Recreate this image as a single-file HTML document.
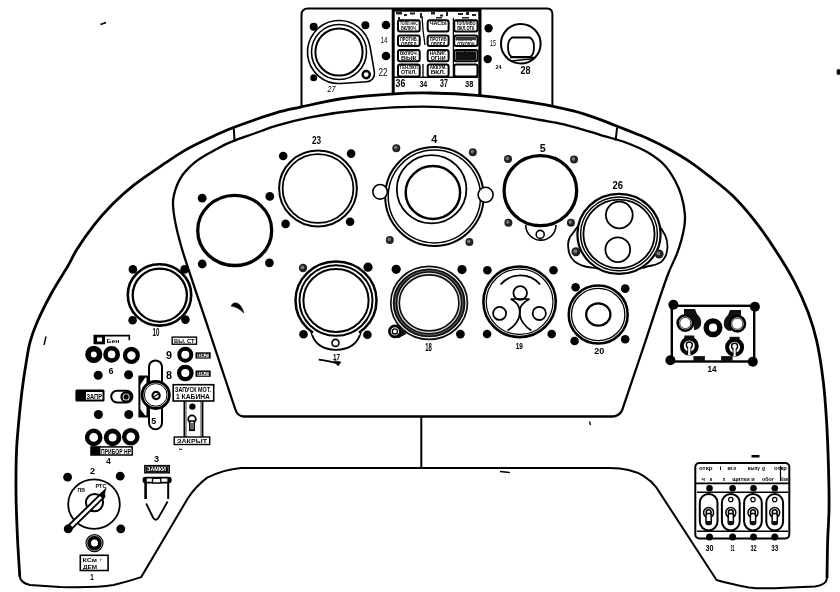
<!DOCTYPE html>
<html><head><meta charset="utf-8"><style>
html,body{margin:0;padding:0;background:#fff;overflow:hidden;}
svg{display:block;will-change:transform;}
text{font-family:"Liberation Sans",sans-serif;fill:#000;-webkit-font-smoothing:antialiased;}
</style></head><body>
<svg width="840" height="592" viewBox="0 0 840 592">
<rect width="840" height="592" fill="#fff"/>
<path d="M301.5,106 L301.5,15 Q301.5,8.5 308,8.5 L547,8.5 Q552.4,8.5 552.4,14 L552.4,105" fill="none" stroke="#000" stroke-width="2" />
<line x1="393.2" y1="8.5" x2="393.2" y2="93.0" stroke="#000" stroke-width="3"/>
<line x1="479.9" y1="8.5" x2="479.9" y2="95.0" stroke="#000" stroke-width="3.2"/>
<line x1="392.0" y1="10.0" x2="481.0" y2="10.0" stroke="#000" stroke-width="3.6"/>
<line x1="394.0" y1="77.3" x2="478.0" y2="77.3" stroke="#000" stroke-width="1.4"/>
<line x1="423.0" y1="64.0" x2="423.0" y2="77.0" stroke="#000" stroke-width="1.3"/>
<line x1="453.4" y1="18.0" x2="453.4" y2="77.0" stroke="#000" stroke-width="1.3"/>
<path d="M422,16 L423,30 L425,45" fill="none" stroke="#000" stroke-width="1.3" />
<path d="M341.02,83.44 L366.73,81.78 A8.30,8.30 0 0 0 374.38,72.11 L370.05,46.71 A31.50,31.50 0 1 0 341.02,83.44 Z" fill="none" stroke="#000" stroke-width="1.6" />
<circle cx="339.0" cy="52.0" r="27.5" fill="none" stroke="#000" stroke-width="1.6"/>
<circle cx="339.0" cy="52.0" r="23.6" fill="none" stroke="#000" stroke-width="2.0"/>
<circle cx="366.2" cy="74.6" r="3.6" fill="none" stroke="#000" stroke-width="2.4"/>
<circle cx="313.7" cy="26.7" r="4.0" fill="#000"/>
<circle cx="365.4" cy="25.2" r="4.0" fill="#000"/>
<circle cx="313.7" cy="77.7" r="3.5" fill="#000"/>
<circle cx="386.0" cy="25.0" r="4.3" fill="#000"/>
<circle cx="386.0" cy="56.0" r="4.3" fill="#000"/>
<text x="380.5" y="43.0" font-size="8.3" font-weight="normal" textLength="7.0" lengthAdjust="spacingAndGlyphs" >14</text>
<text x="378.5" y="76.0" font-size="11.1" font-weight="normal" textLength="9.0" lengthAdjust="spacingAndGlyphs" >22</text>
<text x="327.5" y="92.0" font-size="8.3" font-weight="normal" textLength="8.0" lengthAdjust="spacingAndGlyphs" font-style="italic">27</text>
<rect x="398.0" y="20.2" width="21.7" height="11.3" rx="2" fill="none" stroke="#000" stroke-width="2"/>
<text x="400.0" y="25.2" font-size="5" font-weight="bold" textLength="17.7" lengthAdjust="spacingAndGlyphs">ТОПЛ.НАС</text>
<text x="401.0" y="30.2" font-size="5" font-weight="bold" textLength="15.7" lengthAdjust="spacingAndGlyphs">ВКЛЮЧ.</text>
<rect x="427.7" y="20.2" width="20.9" height="11.3" rx="2" fill="none" stroke="#000" stroke-width="2"/>
<text x="429.7" y="25.2" font-size="5" font-weight="bold" textLength="16.9" lengthAdjust="spacingAndGlyphs">ЧАСЫ</text>
<rect x="454.2" y="20.2" width="23.3" height="11.3" rx="2" fill="none" stroke="#000" stroke-width="2"/>
<text x="456.2" y="25.2" font-size="5" font-weight="bold" textLength="19.3" lengthAdjust="spacingAndGlyphs">ТОПЛИВО</text>
<text x="457.2" y="30.2" font-size="5" font-weight="bold" textLength="17.3" lengthAdjust="spacingAndGlyphs">ВКЛ.ОТК</text>
<rect x="398.0" y="35.5" width="21.7" height="10.5" rx="2" fill="none" stroke="#000" stroke-width="2"/>
<text x="400.0" y="40.5" font-size="5" font-weight="bold" textLength="17.7" lengthAdjust="spacingAndGlyphs">ПРОТИВ.</text>
<text x="401.0" y="45.5" font-size="5" font-weight="bold" textLength="15.7" lengthAdjust="spacingAndGlyphs">ОБЛЕД</text>
<rect x="427.7" y="35.5" width="20.9" height="10.5" rx="2" fill="none" stroke="#000" stroke-width="2"/>
<text x="429.7" y="40.5" font-size="5" font-weight="bold" textLength="16.9" lengthAdjust="spacingAndGlyphs">ПРОТИВ</text>
<text x="430.7" y="45.5" font-size="5" font-weight="bold" textLength="14.9" lengthAdjust="spacingAndGlyphs">ОБЛЕД</text>
<rect x="454.2" y="35.5" width="23.3" height="10.5" rx="2" fill="none" stroke="#000" stroke-width="2"/>
<text x="456.2" y="40.5" font-size="5" font-weight="bold" textLength="19.3" lengthAdjust="spacingAndGlyphs">П.ВКЛЮЧ</text>
<text x="457.2" y="45.5" font-size="5" font-weight="bold" textLength="17.3" lengthAdjust="spacingAndGlyphs">ОТКЛЮЧ</text>
<rect x="398.0" y="50.0" width="21.7" height="11.2" rx="2" fill="none" stroke="#000" stroke-width="2"/>
<text x="400.0" y="55.0" font-size="5" font-weight="bold" textLength="17.7" lengthAdjust="spacingAndGlyphs">ВКЛЮЧ.</text>
<text x="401.0" y="60.0" font-size="5" font-weight="bold" textLength="15.7" lengthAdjust="spacingAndGlyphs">ВЫК</text>
<rect x="427.7" y="50.0" width="20.9" height="11.2" rx="2" fill="none" stroke="#000" stroke-width="2"/>
<text x="429.7" y="55.0" font-size="5" font-weight="bold" textLength="16.9" lengthAdjust="spacingAndGlyphs">НАВИГ.</text>
<text x="430.7" y="60.0" font-size="5" font-weight="bold" textLength="14.9" lengthAdjust="spacingAndGlyphs">ОГНИ</text>
<rect x="454.2" y="50.0" width="23.3" height="11.2" rx="2" fill="none" stroke="#000" stroke-width="2"/>
<text x="456.2" y="55.0" font-size="5" font-weight="bold" textLength="19.3" lengthAdjust="spacingAndGlyphs">ВКЛЮЧ</text>
<text x="457.2" y="60.0" font-size="5" font-weight="bold" textLength="17.3" lengthAdjust="spacingAndGlyphs">ВЫКЛ</text>
<rect x="398.0" y="64.4" width="21.7" height="12.0" rx="2" fill="none" stroke="#000" stroke-width="2"/>
<text x="400.0" y="69.4" font-size="5" font-weight="bold" textLength="17.7" lengthAdjust="spacingAndGlyphs">ГЕН.ВКЛ</text>
<text x="401.0" y="74.4" font-size="5" font-weight="bold" textLength="15.7" lengthAdjust="spacingAndGlyphs">ОТКЛ.</text>
<rect x="427.7" y="64.4" width="20.9" height="12.0" rx="2" fill="none" stroke="#000" stroke-width="2"/>
<text x="429.7" y="69.4" font-size="5" font-weight="bold" textLength="16.9" lengthAdjust="spacingAndGlyphs">АККУМ.</text>
<text x="430.7" y="74.4" font-size="5" font-weight="bold" textLength="14.9" lengthAdjust="spacingAndGlyphs">ВКЛ.</text>
<rect x="454.2" y="64.4" width="23.3" height="12.0" rx="2" fill="none" stroke="#000" stroke-width="2"/>
<rect x="455.5" y="51.5" width="20.5" height="8.5" rx="0" fill="#111" stroke="#000" stroke-width="0"/>
<rect x="455.5" y="37.0" width="20.5" height="3.0" rx="0" fill="#333" stroke="#000" stroke-width="0"/>
<text x="395.6" y="87.4" font-size="11.5" font-weight="bold" textLength="9.8" lengthAdjust="spacingAndGlyphs" >36</text>
<text x="419.4" y="87.4" font-size="9.3" font-weight="bold" textLength="7.8" lengthAdjust="spacingAndGlyphs" >34</text>
<text x="440.1" y="87.4" font-size="10.1" font-weight="bold" textLength="7.8" lengthAdjust="spacingAndGlyphs" >37</text>
<text x="465.1" y="87.4" font-size="9.3" font-weight="bold" textLength="8.3" lengthAdjust="spacingAndGlyphs" >38</text>
<rect x="396.0" y="12.0" width="6.0" height="2.5" rx="0" fill="#222" stroke="#000" stroke-width="0"/>
<rect x="404.0" y="14.0" width="3.0" height="2.0" rx="0" fill="#222" stroke="#000" stroke-width="0"/>
<rect x="410.0" y="12.5" width="5.0" height="2.0" rx="0" fill="#222" stroke="#000" stroke-width="0"/>
<rect x="420.0" y="13.0" width="2.0" height="5.0" rx="0" fill="#222" stroke="#000" stroke-width="0"/>
<rect x="431.0" y="12.0" width="4.0" height="2.5" rx="0" fill="#222" stroke="#000" stroke-width="0"/>
<rect x="440.0" y="14.5" width="3.0" height="2.0" rx="0" fill="#222" stroke="#000" stroke-width="0"/>
<rect x="446.0" y="12.0" width="2.0" height="4.0" rx="0" fill="#222" stroke="#000" stroke-width="0"/>
<rect x="458.0" y="13.0" width="5.0" height="2.0" rx="0" fill="#222" stroke="#000" stroke-width="0"/>
<rect x="466.0" y="12.0" width="3.0" height="3.0" rx="0" fill="#222" stroke="#000" stroke-width="0"/>
<rect x="472.0" y="14.0" width="4.0" height="2.0" rx="0" fill="#222" stroke="#000" stroke-width="0"/>
<rect x="398.0" y="17.0" width="2.0" height="3.0" rx="0" fill="#222" stroke="#000" stroke-width="0"/>
<rect x="436.0" y="17.0" width="6.0" height="1.5" rx="0" fill="#222" stroke="#000" stroke-width="0"/>
<rect x="462.0" y="17.0" width="7.0" height="1.5" rx="0" fill="#222" stroke="#000" stroke-width="0"/>
<circle cx="520.8" cy="43.7" r="19.8" fill="none" stroke="#000" stroke-width="2"/>
<path d="M512,37.5 L530,37.5 Q534,40 534,47 Q534,55 530,57 L512,57 Q508,55 508,47 Q508,40 512,37.5Z" fill="none" stroke="#000" stroke-width="1.8"/>
<line x1="511.5" y1="61.0" x2="534.7" y2="58.5" stroke="#000" stroke-width="1.6"/>
<line x1="510.0" y1="57.5" x2="534.0" y2="57.5" stroke="#000" stroke-width="1.6"/>
<circle cx="488.6" cy="28.3" r="4.2" fill="#000"/>
<circle cx="487.7" cy="59.1" r="4.2" fill="#000"/>
<text x="489.9" y="46.0" font-size="8.3" font-weight="normal" textLength="6.0" lengthAdjust="spacingAndGlyphs" >15</text>
<text x="495.5" y="69.0" font-size="6.2" font-weight="bold" textLength="6.0" lengthAdjust="spacingAndGlyphs" >24</text>
<text x="520.4" y="74.3" font-size="11.1" font-weight="bold" textLength="10.0" lengthAdjust="spacingAndGlyphs" >28</text>
<path d="M19.8,577.0 C19.0,563.3 18.0,549.9 17.4,536.0 C16.8,521.8 16.1,507.2 16.0,492.7 C15.9,478.2 16.0,462.1 16.6,449.0 C17.1,438.3 18.0,429.9 18.9,420.0 C19.9,409.5 21.1,397.6 22.4,387.8 C23.5,379.5 24.5,372.5 25.8,364.9 C27.1,357.2 28.1,349.2 30.1,341.9 C32.0,334.9 34.2,329.0 37.3,321.8 C41.1,313.0 46.4,302.5 51.6,293.0 C56.9,283.3 64.3,272.4 68.8,264.4 C72.0,258.8 73.2,255.3 76.5,250.0 C81.0,242.8 87.7,233.1 93.8,225.4 C99.7,217.9 105.8,211.0 112.4,204.3 C119.1,197.6 125.8,191.6 133.8,185.2 C143.0,177.9 155.7,169.5 165.0,163.2 C172.4,158.2 178.5,154.0 185.3,150.1 C191.9,146.3 198.2,143.3 205.2,140.0 C212.7,136.4 221.0,132.6 229.0,129.3 C236.9,126.1 244.9,123.3 252.9,120.5 C260.8,117.7 268.7,114.8 276.7,112.6 C284.6,110.4 291.6,109.1 300.5,107.1 C312.0,104.6 326.2,101.1 340.0,99.0 C354.9,96.7 371.7,95.3 387.0,94.3 C401.6,93.3 415.1,92.8 430.0,93.0 C446.0,93.2 462.6,94.0 480.0,95.7 C499.1,97.5 525.1,101.4 540.0,103.9 C549.0,105.4 554.3,106.6 561.4,108.2 C568.6,109.8 575.8,111.5 582.9,113.6 C590.1,115.8 597.2,118.4 604.3,121.1 C611.5,123.8 618.6,126.8 625.7,129.6 C632.8,132.5 640.0,135.0 647.1,138.2 C654.3,141.4 661.5,145.0 668.6,148.9 C675.8,152.9 683.0,157.1 690.0,161.8 C697.3,166.7 704.3,172.3 711.4,177.9 C718.7,183.7 726.0,189.2 733.0,196.0 C740.5,203.4 747.8,211.9 754.8,220.8 C762.2,230.2 769.5,240.9 776.1,251.2 C782.6,261.2 788.9,271.3 794.3,281.6 C799.5,291.6 804.2,302.0 808.0,312.0 C811.5,321.4 814.1,329.6 816.5,340.0 C819.4,352.6 821.7,368.4 823.4,382.6 C825.1,396.7 825.9,410.9 826.8,425.1 C827.6,439.3 828.1,453.5 828.5,467.7 C828.9,481.9 829.2,497.4 829.0,510.3 C828.8,521.1 828.0,529.5 827.7,540.0 C827.3,551.9 827.2,565.3 827.0,578.0" fill="none" stroke="#000" stroke-width="2.8" />
<path d="M827,578 Q826.5,585 815,586.5 L785,587.8 Q760,589 748.9,587.4 Q730,584 716.5,580 L656.3,487.4 Q646,474 628.5,470 Q620,468 610,468 L241,468 Q224,469.5 207.2,477.6 Q196,486 188,498 L141.2,577.1 Q128,581.5 113.6,585 Q95,588 60,587 L30,585 Q21,583 19.8,577" fill="none" stroke="#000" stroke-width="2" />
<path d="M235.2,409.0 C226.4,382.5 217.5,356.0 208.7,329.5 C199.9,303.0 187.8,268.3 182.3,250.0 C179.5,240.4 178.0,235.0 176.5,228.0 C175.1,221.7 173.9,215.1 173.4,210.0 C173.0,206.2 172.8,203.3 173.1,200.0 C173.4,196.8 174.2,193.7 175.1,190.7 C175.9,187.9 177.0,185.2 178.2,182.6 C179.4,180.1 180.6,177.8 182.2,175.5 C183.9,173.0 186.1,170.7 188.3,168.4 C190.5,166.1 192.7,163.9 195.4,161.8 C198.4,159.5 202.1,157.2 205.5,155.2 C208.9,153.2 212.4,151.4 215.7,149.6 C218.9,147.9 221.8,146.1 225.0,144.6 C228.2,143.1 231.2,141.9 235.0,140.4 C240.1,138.4 246.5,136.3 252.9,134.0 C260.3,131.4 268.0,128.3 276.7,125.7 C286.8,122.7 297.7,119.8 310.0,117.4 C324.9,114.4 341.7,111.7 360.0,110.0 C382.1,107.9 409.7,106.2 433.6,106.8 C456.3,107.4 480.7,110.4 500.0,113.0 C515.1,115.0 528.7,118.0 540.0,120.0 C548.2,121.5 554.3,122.3 561.4,123.9 C568.6,125.5 575.8,127.6 582.9,129.6 C590.1,131.6 597.2,133.9 604.3,136.1 C611.4,138.2 618.7,139.9 625.7,142.5 C632.9,145.2 640.6,148.2 647.1,152.1 C653.4,155.8 659.6,160.1 664.3,165.0 C668.7,169.6 672.1,175.2 675.0,180.5 C677.7,185.4 679.7,190.1 681.3,195.5 C683.1,201.4 684.5,208.8 684.9,214.4 C685.2,218.8 684.9,222.1 684.4,226.2 C683.8,230.7 682.6,235.7 681.3,240.4 C680.0,245.2 678.5,249.6 676.6,254.6 C674.3,260.5 671.5,265.1 668.3,273.5 C662.2,289.1 652.9,319.2 645.2,342.0 C637.5,364.8 629.7,387.7 622.0,410.5 Q619,416.5 612,416.5 L244,416.5 Q237.5,416.5 235.2,409" fill="none" stroke="#000" stroke-width="2.3" />
<line x1="233.8" y1="128.5" x2="234.6" y2="141.5" stroke="#000" stroke-width="2"/>
<line x1="617.1" y1="127.5" x2="615.6" y2="140.5" stroke="#000" stroke-width="2"/>
<line x1="421.3" y1="416.5" x2="421.3" y2="468.0" stroke="#000" stroke-width="2"/>
<ellipse cx="234.7" cy="230.4" rx="37.0" ry="35.1" fill="none" stroke="#000" stroke-width="3.3"/>
<circle cx="202.2" cy="198.2" r="4.4" fill="#000"/>
<circle cx="269.8" cy="196.4" r="4.4" fill="#000"/>
<circle cx="202.2" cy="264.0" r="4.4" fill="#000"/>
<circle cx="269.4" cy="262.8" r="4.4" fill="#000"/>
<ellipse cx="318.0" cy="188.5" rx="38.9" ry="37.9" fill="none" stroke="#000" stroke-width="2"/>
<ellipse cx="318.0" cy="188.5" rx="35.4" ry="34.4" fill="none" stroke="#000" stroke-width="1.8"/>
<circle cx="283.2" cy="156.0" r="4.3" fill="#000"/>
<circle cx="351.1" cy="153.6" r="4.3" fill="#000"/>
<circle cx="285.6" cy="223.9" r="4.3" fill="#000"/>
<circle cx="350.1" cy="221.8" r="4.3" fill="#000"/>
<text x="311.9" y="144.3" font-size="11.0" font-weight="bold" textLength="9.1" lengthAdjust="spacingAndGlyphs" >23</text>
<ellipse cx="159.5" cy="294.9" rx="31.7" ry="30.7" fill="none" stroke="#000" stroke-width="2.6"/>
<ellipse cx="159.8" cy="295.2" rx="27.1" ry="26.6" fill="none" stroke="#000" stroke-width="2.3"/>
<circle cx="132.9" cy="269.4" r="4.3" fill="#000"/>
<circle cx="184.6" cy="269.4" r="4.3" fill="#000"/>
<circle cx="132.6" cy="320.3" r="4.3" fill="#000"/>
<circle cx="185.4" cy="319.6" r="4.3" fill="#000"/>
<text x="152.6" y="336.4" font-size="10.3" font-weight="bold" textLength="6.9" lengthAdjust="spacingAndGlyphs" >10</text>
<ellipse cx="434.4" cy="196.5" rx="49.2" ry="49.4" fill="none" stroke="#000" stroke-width="2"/>
<ellipse cx="434.4" cy="196.5" rx="46.2" ry="46.4" fill="none" stroke="#000" stroke-width="1.5"/>
<ellipse cx="431.6" cy="189.3" rx="34.8" ry="34.1" fill="none" stroke="#000" stroke-width="1.8"/>
<ellipse cx="432.9" cy="192.5" rx="27.2" ry="26.4" fill="none" stroke="#000" stroke-width="2.5"/>
<circle cx="380.1" cy="191.8" r="7.3" fill="#fff" stroke="#000" stroke-width="1.6"/>
<circle cx="485.6" cy="194.8" r="7.5" fill="#fff" stroke="#000" stroke-width="1.6"/>
<circle cx="396.3" cy="148.2" r="4.0" fill="#222"/>
<circle cx="395.7" cy="147.6" r="1.8" fill="#777"/>
<circle cx="472.8" cy="152.2" r="4.0" fill="#222"/>
<circle cx="472.2" cy="151.6" r="1.8" fill="#777"/>
<circle cx="389.8" cy="240.0" r="4.0" fill="#222"/>
<circle cx="389.2" cy="239.4" r="1.8" fill="#777"/>
<circle cx="469.4" cy="242.0" r="4.0" fill="#222"/>
<circle cx="468.8" cy="241.4" r="1.8" fill="#777"/>
<text x="431.2" y="142.6" font-size="10.6" font-weight="bold" textLength="6.0" lengthAdjust="spacingAndGlyphs" >4</text>
<path d="M525.7,225 A15,15 0 0 0 556,225" fill="#fff" stroke="#000" stroke-width="1.6" />
<ellipse cx="540.4" cy="190.6" rx="36.3" ry="35.0" fill="#fff" stroke="#000" stroke-width="3.3"/>
<circle cx="540.2" cy="234.4" r="4.0" fill="none" stroke="#000" stroke-width="1.6"/>
<circle cx="508.0" cy="159.0" r="4.0" fill="#222"/>
<circle cx="507.4" cy="158.4" r="1.8" fill="#777"/>
<circle cx="574.0" cy="159.5" r="4.0" fill="#222"/>
<circle cx="573.4" cy="158.9" r="1.8" fill="#777"/>
<circle cx="508.4" cy="222.7" r="4.0" fill="#222"/>
<circle cx="507.8" cy="222.1" r="1.8" fill="#777"/>
<circle cx="570.9" cy="222.7" r="4.0" fill="#222"/>
<circle cx="570.3" cy="222.1" r="1.8" fill="#777"/>
<text x="539.8" y="151.7" font-size="11.1" font-weight="bold" textLength="6.0" lengthAdjust="spacingAndGlyphs" >5</text>
<path d="M578,226 Q574,232 569.9,237 Q567.6,242 568.2,247 Q568.5,256 574.3,261.2 Q580,266 591.9,267.7 Q595,268 598,268.6" fill="none" stroke="#000" stroke-width="1.8" />
<path d="M661,228 Q663,232 665.2,235.3 Q667.8,241 667.4,248 Q666.8,254 665.2,256.8 Q663,260.5 660.8,262.3 Q656,265 652,265.5 Q646,266.5 644.3,267.7 Q642,268 640,268.6" fill="none" stroke="#000" stroke-width="1.8" />
<ellipse cx="619.0" cy="233.9" rx="41.6" ry="40.0" fill="#fff" stroke="#000" stroke-width="2.2"/>
<ellipse cx="619.0" cy="233.9" rx="38.4" ry="36.9" fill="none" stroke="#000" stroke-width="1.5"/>
<ellipse cx="619.0" cy="233.9" rx="35.6" ry="34.2" fill="none" stroke="#000" stroke-width="1.8"/>
<circle cx="619.3" cy="215.0" r="13.4" fill="none" stroke="#000" stroke-width="1.8"/>
<circle cx="617.8" cy="249.7" r="12.4" fill="none" stroke="#000" stroke-width="1.8"/>
<circle cx="575.9" cy="251.8" r="4.5" fill="#222"/>
<circle cx="575.3" cy="251.2" r="2.0" fill="#777"/>
<circle cx="659.1" cy="254.0" r="4.5" fill="#222"/>
<circle cx="658.5" cy="253.4" r="2.0" fill="#777"/>
<text x="612.4" y="189.3" font-size="10.0" font-weight="bold" textLength="10.5" lengthAdjust="spacingAndGlyphs" >26</text>
<path d="M311,331 Q315,349.5 336,349.8 Q357,349.5 361,331" fill="#fff" stroke="#000" stroke-width="1.8" />
<ellipse cx="336.0" cy="300.5" rx="40.5" ry="39.0" fill="#fff" stroke="#000" stroke-width="2.5"/>
<path d="M313,332.6 A40.5,39 0 0 0 359,332.6" fill="none" stroke="#fff" stroke-width="4"/>
<ellipse cx="336.0" cy="300.5" rx="36.5" ry="35.3" fill="none" stroke="#000" stroke-width="2"/>
<ellipse cx="336.0" cy="300.5" rx="32.6" ry="31.4" fill="none" stroke="#000" stroke-width="2"/>
<circle cx="335.5" cy="342.9" r="3.5" fill="none" stroke="#000" stroke-width="1.6"/>
<circle cx="303.0" cy="268.0" r="4.2" fill="#222"/>
<circle cx="302.4" cy="267.4" r="1.9" fill="#777"/>
<circle cx="368.0" cy="267.2" r="4.6" fill="#000"/>
<circle cx="303.5" cy="334.3" r="4.3" fill="#000"/>
<circle cx="367.4" cy="334.8" r="4.3" fill="#000"/>
<text x="333.0" y="359.8" font-size="8.3" font-weight="bold" textLength="7.0" lengthAdjust="spacingAndGlyphs" >17</text>
<path d="M318.7,359.6 Q330,361 338,363.5" fill="none" stroke="#000" stroke-width="1.6" />
<path d="M334,360.5 L341,362 L338,366 Z" fill="#000" stroke="#000" stroke-width="0.5" />
<ellipse cx="429.1" cy="302.9" rx="34.1" ry="32.3" fill="none" stroke="#111" stroke-width="10.2"/>
<ellipse cx="429.1" cy="302.9" rx="36.9" ry="35.0" fill="none" stroke="#fff" stroke-width="1.1"/>
<ellipse cx="429.1" cy="302.9" rx="31.2" ry="29.5" fill="none" stroke="#ddd" stroke-width="1.1"/>
<ellipse cx="429.1" cy="302.9" rx="34.0" ry="32.2" fill="none" stroke="#888" stroke-width="0.7"/>
<path d="M398,326 L406,333.5 L398,338 Z" fill="#111" stroke="#000" stroke-width="1" />
<circle cx="394.9" cy="331.4" r="5.5" fill="#fff" stroke="#000" stroke-width="2.6"/>
<circle cx="394.9" cy="331.4" r="2.6" fill="none" stroke="#000" stroke-width="1.3"/>
<circle cx="396.2" cy="269.3" r="4.6" fill="#000"/>
<circle cx="462.0" cy="269.6" r="4.6" fill="#000"/>
<circle cx="460.4" cy="334.1" r="4.4" fill="#000"/>
<text x="425.2" y="350.5" font-size="11.0" font-weight="bold" textLength="6.6" lengthAdjust="spacingAndGlyphs" >18</text>
<ellipse cx="519.6" cy="301.8" rx="36.2" ry="35.3" fill="none" stroke="#000" stroke-width="2.6"/>
<ellipse cx="519.6" cy="301.8" rx="33.4" ry="32.6" fill="none" stroke="#000" stroke-width="1.2"/>
<path d="M500.6,284.5 A26,26 0 0 1 540.1,284.5" fill="none" stroke="#000" stroke-width="1.8" />
<circle cx="520.2" cy="293.0" r="6.8" fill="none" stroke="#000" stroke-width="1.8"/>
<circle cx="499.6" cy="313.4" r="6.5" fill="none" stroke="#000" stroke-width="1.8"/>
<circle cx="539.3" cy="313.4" r="6.6" fill="none" stroke="#000" stroke-width="1.8"/>
<path d="M510.6,299 Q521,304 519.8,314 Q518.5,324 507.6,330.5" fill="none" stroke="#000" stroke-width="1.8" />
<path d="M529.6,299 Q518.6,304 519.6,314 Q521,324 531.4,330.5" fill="none" stroke="#000" stroke-width="1.8" />
<line x1="511.0" y1="299.0" x2="529.0" y2="299.0" stroke="#000" stroke-width="1.6"/>
<circle cx="487.4" cy="270.3" r="4.3" fill="#000"/>
<circle cx="553.5" cy="270.3" r="4.3" fill="#000"/>
<circle cx="487.1" cy="334.0" r="4.3" fill="#000"/>
<circle cx="551.7" cy="334.0" r="4.3" fill="#000"/>
<text x="515.7" y="348.7" font-size="8.9" font-weight="bold" textLength="7.2" lengthAdjust="spacingAndGlyphs" >19</text>
<ellipse cx="598.2" cy="314.5" rx="29.5" ry="29.0" fill="none" stroke="#000" stroke-width="2.5"/>
<ellipse cx="598.2" cy="314.5" rx="26.7" ry="26.1" fill="none" stroke="#000" stroke-width="1.3"/>
<ellipse cx="598.3" cy="314.5" rx="12.1" ry="11.1" fill="none" stroke="#000" stroke-width="2.3"/>
<circle cx="575.6" cy="287.2" r="4.3" fill="#000"/>
<circle cx="625.2" cy="288.6" r="4.3" fill="#000"/>
<circle cx="574.6" cy="341.0" r="4.3" fill="#000"/>
<circle cx="625.2" cy="339.3" r="4.3" fill="#000"/>
<text x="594.3" y="354.4" font-size="8.9" font-weight="bold" textLength="10.0" lengthAdjust="spacingAndGlyphs" >20</text>
<path d="M231,306 Q234,300 240,305 Q243,309 244,313 Q238,307 231,306Z" fill="#000" stroke="#000" stroke-width="0.5" />
<rect x="671.8" y="305.8" width="82.4" height="55.7" rx="0" fill="none" stroke="#000" stroke-width="2.4"/>
<circle cx="673.4" cy="304.8" r="5.0" fill="#000"/>
<circle cx="754.9" cy="306.8" r="5.0" fill="#000"/>
<circle cx="670.4" cy="360.2" r="5.0" fill="#000"/>
<circle cx="752.8" cy="361.8" r="5.0" fill="#000"/>
<circle cx="713.0" cy="327.7" r="6.8" fill="none" stroke="#000" stroke-width="5.4"/>
<path d="M683.9,309 L695,309 L697,314 Q702,318 701,325 Q699,330 694,330 L693,318 L684,316 Z" fill="#111" stroke="#000" stroke-width="0" />
<circle cx="685.3" cy="323.0" r="7.7" fill="#fff" stroke="#000" stroke-width="2.6"/>
<circle cx="685.3" cy="323.0" r="5.6" fill="none" stroke="#000" stroke-width="0.8"/>
<path d="M741,310 L730,310 L728,315 Q723,319 724,326 Q726,331 731,331 L732,319 L741,317 Z" fill="#111" stroke="#000" stroke-width="0" />
<circle cx="737.3" cy="323.7" r="7.7" fill="#fff" stroke="#000" stroke-width="2.6"/>
<circle cx="737.3" cy="323.7" r="5.6" fill="none" stroke="#000" stroke-width="0.8"/>
<rect x="684.3" y="335.5" width="10.0" height="5.0" rx="0" fill="#111" stroke="#000" stroke-width="0"/>
<circle cx="689.3" cy="346.0" r="7.5" fill="#fff" stroke="#000" stroke-width="4"/>
<circle cx="689.3" cy="345.0" r="3.0" fill="none" stroke="#000" stroke-width="1.4"/>
<rect x="688.0" y="346.0" width="2.6" height="9.0" rx="0" fill="#fff" stroke="#000" stroke-width="0"/>
<line x1="687.7" y1="347.0" x2="687.7" y2="354.0" stroke="#000" stroke-width="0.9"/>
<line x1="690.9" y1="347.0" x2="690.9" y2="354.0" stroke="#000" stroke-width="0.9"/>
<rect x="729.6" y="336.8" width="10.0" height="5.0" rx="0" fill="#111" stroke="#000" stroke-width="0"/>
<circle cx="734.6" cy="347.3" r="7.5" fill="#fff" stroke="#000" stroke-width="4"/>
<circle cx="734.6" cy="346.3" r="3.0" fill="none" stroke="#000" stroke-width="1.4"/>
<rect x="733.3" y="347.3" width="2.6" height="9.0" rx="0" fill="#fff" stroke="#000" stroke-width="0"/>
<line x1="733.0" y1="348.3" x2="733.0" y2="355.3" stroke="#000" stroke-width="0.9"/>
<line x1="736.2" y1="348.3" x2="736.2" y2="355.3" stroke="#000" stroke-width="0.9"/>
<rect x="693.4" y="356.1" width="11.5" height="5.4" rx="0" fill="#111" stroke="#000" stroke-width="0"/>
<rect x="721.1" y="356.1" width="11.5" height="5.4" rx="0" fill="#111" stroke="#000" stroke-width="0"/>
<text x="707.6" y="372.2" font-size="9.3" font-weight="bold" textLength="9.0" lengthAdjust="spacingAndGlyphs" >14</text>
<rect x="695.3" y="463.0" width="94.0" height="75.4" rx="4" fill="none" stroke="#000" stroke-width="2"/>
<line x1="696.0" y1="483.4" x2="789.0" y2="483.4" stroke="#000" stroke-width="1.6"/>
<line x1="697.0" y1="492.2" x2="788.0" y2="492.2" stroke="#000" stroke-width="1.4"/>
<line x1="697.0" y1="531.3" x2="788.0" y2="531.3" stroke="#000" stroke-width="1.4"/>
<text x="699.0" y="470.0" font-size="6" font-weight="bold" textLength="13.5" lengthAdjust="spacingAndGlyphs">откр</text>
<text x="719.5" y="470.0" font-size="6" font-weight="bold" textLength="2.0" lengthAdjust="spacingAndGlyphs">і</text>
<text x="727.5" y="470.0" font-size="6" font-weight="bold" textLength="5.0" lengthAdjust="spacingAndGlyphs">вк</text>
<text x="733.5" y="470.0" font-size="6" font-weight="bold" textLength="2.5" lengthAdjust="spacingAndGlyphs">м</text>
<text x="747.8" y="470.0" font-size="6" font-weight="bold" textLength="12.0" lengthAdjust="spacingAndGlyphs">выпу</text>
<text x="762.0" y="470.0" font-size="6" font-weight="bold" textLength="3.0" lengthAdjust="spacingAndGlyphs">g</text>
<text x="774.0" y="470.0" font-size="6" font-weight="bold" textLength="13.0" lengthAdjust="spacingAndGlyphs">откр</text>
<text x="701.5" y="480.5" font-size="6" font-weight="bold" textLength="3.5" lengthAdjust="spacingAndGlyphs">ч</text>
<text x="709.7" y="480.5" font-size="6" font-weight="bold" textLength="2.5" lengthAdjust="spacingAndGlyphs">в</text>
<text x="722.8" y="480.5" font-size="6" font-weight="bold" textLength="2.5" lengthAdjust="spacingAndGlyphs">л</text>
<text x="732.3" y="480.5" font-size="6" font-weight="bold" textLength="22.5" lengthAdjust="spacingAndGlyphs">щитки и</text>
<text x="762.0" y="480.5" font-size="6" font-weight="bold" textLength="12.0" lengthAdjust="spacingAndGlyphs">обог</text>
<text x="781.0" y="480.5" font-size="6" font-weight="bold" textLength="7.0" lengthAdjust="spacingAndGlyphs">бак</text>
<line x1="780.5" y1="466.0" x2="780.5" y2="481.0" stroke="#000" stroke-width="1.2"/>
<circle cx="709.5" cy="488.3" r="3.3" fill="#000"/>
<circle cx="709.5" cy="537.0" r="3.5" fill="#000"/>
<circle cx="732.6" cy="488.3" r="3.3" fill="#000"/>
<circle cx="732.6" cy="537.0" r="3.5" fill="#000"/>
<circle cx="753.5" cy="488.3" r="3.3" fill="#000"/>
<circle cx="753.5" cy="537.0" r="3.5" fill="#000"/>
<circle cx="774.8" cy="488.3" r="3.3" fill="#000"/>
<circle cx="774.8" cy="537.0" r="3.5" fill="#000"/>
<rect x="699.8" y="494" width="17.7" height="36.4" rx="8.8" fill="none" stroke="#000" stroke-width="2"/>
<circle cx="708.6" cy="512.6" r="5.0" fill="none" stroke="#000" stroke-width="1.5"/>
<circle cx="708.6" cy="512.2" r="2.4" fill="none" stroke="#000" stroke-width="1.6"/>
<rect x="706.0" y="513.5" width="5.2" height="11" rx="2" fill="#fff" stroke="#000" stroke-width="1.5"/>
<rect x="706.0" y="521.0" width="5.2" height="3.5" rx="0" fill="#111" stroke="#000" stroke-width="0"/>
<rect x="721.9" y="494" width="17.8" height="36.4" rx="8.8" fill="none" stroke="#000" stroke-width="2"/>
<circle cx="730.8" cy="499.6" r="2.2" fill="none" stroke="#000" stroke-width="1.2"/>
<circle cx="730.8" cy="512.6" r="5.0" fill="none" stroke="#000" stroke-width="1.5"/>
<circle cx="730.8" cy="512.2" r="2.4" fill="none" stroke="#000" stroke-width="1.6"/>
<rect x="728.2" y="513.5" width="5.2" height="11" rx="2" fill="#fff" stroke="#000" stroke-width="1.5"/>
<rect x="728.2" y="521.0" width="5.2" height="3.5" rx="0" fill="#111" stroke="#000" stroke-width="0"/>
<rect x="744.1" y="494" width="17.7" height="36.4" rx="8.8" fill="none" stroke="#000" stroke-width="2"/>
<circle cx="753.0" cy="499.6" r="2.2" fill="none" stroke="#000" stroke-width="1.2"/>
<circle cx="753.0" cy="512.6" r="5.0" fill="none" stroke="#000" stroke-width="1.5"/>
<circle cx="753.0" cy="512.2" r="2.4" fill="none" stroke="#000" stroke-width="1.6"/>
<rect x="750.4" y="513.5" width="5.2" height="11" rx="2" fill="#fff" stroke="#000" stroke-width="1.5"/>
<rect x="750.4" y="521.0" width="5.2" height="3.5" rx="0" fill="#111" stroke="#000" stroke-width="0"/>
<rect x="766.3" y="494" width="16.8" height="36.4" rx="8.8" fill="none" stroke="#000" stroke-width="2"/>
<circle cx="774.7" cy="499.6" r="2.2" fill="none" stroke="#000" stroke-width="1.2"/>
<circle cx="774.7" cy="512.6" r="5.0" fill="none" stroke="#000" stroke-width="1.5"/>
<circle cx="774.7" cy="512.2" r="2.4" fill="none" stroke="#000" stroke-width="1.6"/>
<rect x="772.1" y="513.5" width="5.2" height="11" rx="2" fill="#fff" stroke="#000" stroke-width="1.5"/>
<rect x="772.1" y="521.0" width="5.2" height="3.5" rx="0" fill="#111" stroke="#000" stroke-width="0"/>
<text x="705.5" y="551.0" font-size="8.3" font-weight="bold" textLength="8.0" lengthAdjust="spacingAndGlyphs" >30</text>
<text x="730.6" y="551.0" font-size="8.3" font-weight="bold" textLength="4.0" lengthAdjust="spacingAndGlyphs" >31</text>
<text x="750.5" y="551.0" font-size="8.3" font-weight="bold" textLength="6.0" lengthAdjust="spacingAndGlyphs" >32</text>
<text x="771.3" y="551.0" font-size="8.3" font-weight="bold" textLength="7.0" lengthAdjust="spacingAndGlyphs" >33</text>
<rect x="751.5" y="455.0" width="8.0" height="2.5" rx="0" fill="#000" stroke="#000" stroke-width="0"/>
<circle cx="93.8" cy="354.4" r="5.8" fill="none" stroke="#000" stroke-width="5.6"/>
<circle cx="111.6" cy="354.4" r="6.1" fill="none" stroke="#000" stroke-width="4.6000000000000005"/>
<circle cx="131.4" cy="355.4" r="6.4" fill="none" stroke="#000" stroke-width="4.3"/>
<path d="M94.3,344 L94.3,335.6 L129.3,335.6 L129.3,340.2" fill="none" stroke="#000" stroke-width="1.6" />
<rect x="94.3" y="335.6" width="10.7" height="8.7" rx="0" fill="#000" stroke="#000" stroke-width="0"/>
<rect x="97.0" y="337.5" width="5.0" height="4.0" rx="0" fill="#fff" stroke="#000" stroke-width="0"/>
<text x="106.5" y="342.5" font-size="6" font-weight="bold" textLength="13.0" lengthAdjust="spacingAndGlyphs">Бен</text>
<text x="108.6" y="374.4" font-size="9.2" font-weight="bold" textLength="5.0" lengthAdjust="spacingAndGlyphs" >6</text>
<circle cx="98.2" cy="375.2" r="4.5" fill="#000"/>
<circle cx="128.6" cy="374.7" r="4.5" fill="#000"/>
<circle cx="98.4" cy="414.5" r="4.5" fill="#000"/>
<circle cx="128.8" cy="414.5" r="4.5" fill="#000"/>
<rect x="75.4" y="389.5" width="29.1" height="12.1" rx="1.5" fill="#000" stroke="#000" stroke-width="0"/>
<rect x="86.0" y="392.0" width="16.5" height="7.5" rx="0" fill="#fff" stroke="#000" stroke-width="0"/>
<text x="86.5" y="398.5" font-size="6.5" font-weight="bold" textLength="15.5" lengthAdjust="spacingAndGlyphs">ЗАПР</text>
<rect x="111.2" y="390.8" width="21.2" height="11.6" rx="5.8" fill="#fff" stroke="#000" stroke-width="2"/>
<circle cx="126.1" cy="396.9" r="4.6" fill="#fff" stroke="#000" stroke-width="2.2"/>
<circle cx="126.1" cy="396.9" r="2.6" fill="#000" stroke="#000" stroke-width="0"/>
<circle cx="93.7" cy="437.4" r="6.6" fill="none" stroke="#000" stroke-width="4.4"/>
<circle cx="112.6" cy="437.4" r="6.4" fill="none" stroke="#000" stroke-width="4.800000000000001"/>
<circle cx="130.8" cy="436.8" r="6.6" fill="none" stroke="#000" stroke-width="4.4"/>
<rect x="91.0" y="446.9" width="41.2" height="8.1" rx="0" fill="none" stroke="#000" stroke-width="1.5"/>
<rect x="91.0" y="446.9" width="9.4" height="8.1" rx="0" fill="#000" stroke="#000" stroke-width="0"/>
<text x="101.0" y="453.5" font-size="6.5" font-weight="bold" textLength="30.0" lengthAdjust="spacingAndGlyphs">ПРИБОР НР</text>
<text x="106.2" y="463.5" font-size="8.3" font-weight="bold" textLength="4.5" lengthAdjust="spacingAndGlyphs" >4</text>
<path d="M139.4,376.6 L147.5,376.6 L147.5,416.5 L139.4,416.5 Z" fill="none" stroke="#000" stroke-width="2" />
<path d="M139.4,376.6 L146,376.6 L139.4,386 Z" fill="#000" stroke="#000" stroke-width="0" />
<path d="M139.4,416.5 L146,416.5 L139.4,408 Z" fill="#000" stroke="#000" stroke-width="0" />
<rect x="149" y="360.4" width="13" height="68.9" rx="6.5" fill="#fff" stroke="#000" stroke-width="2"/>
<circle cx="155.7" cy="394.9" r="13.6" fill="#fff" stroke="#000" stroke-width="2.8"/>
<circle cx="155.7" cy="394.9" r="11.3" fill="none" stroke="#000" stroke-width="1"/>
<circle cx="156.1" cy="395.5" r="3.6" fill="none" stroke="#000" stroke-width="2.2"/>
<line x1="153.5" y1="397.0" x2="158.5" y2="394.0" stroke="#000" stroke-width="1.2"/>
<text x="151.3" y="423.5" font-size="9.7" font-weight="bold" textLength="5.0" lengthAdjust="spacingAndGlyphs" >5</text>
<circle cx="185.3" cy="354.7" r="6.0" fill="none" stroke="#000" stroke-width="4.0"/>
<circle cx="185.3" cy="373.0" r="6.2" fill="none" stroke="#000" stroke-width="4.300000000000001"/>
<text x="166.1" y="359.3" font-size="11.1" font-weight="bold" textLength="6.0" lengthAdjust="spacingAndGlyphs" >9</text>
<text x="166.1" y="378.6" font-size="11.1" font-weight="bold" textLength="6.0" lengthAdjust="spacingAndGlyphs" >8</text>
<rect x="172.2" y="337.1" width="24.3" height="7.1" rx="0" fill="none" stroke="#000" stroke-width="1.4"/>
<text x="174.0" y="342.8" font-size="6" font-weight="bold" textLength="20.5" lengthAdjust="spacingAndGlyphs">ВЫ. СТ</text>
<rect x="195.5" y="352.3" width="15.2" height="6.3" rx="0" fill="#000" stroke="#000" stroke-width="0"/>
<rect x="197.5" y="353.6" width="11.5" height="3.8" rx="0" fill="#fff" stroke="#000" stroke-width="0"/>
<text x="197.7" y="357.0" font-size="4.6" font-weight="bold" textLength="11.0" lengthAdjust="spacingAndGlyphs">ВКЛ</text>
<rect x="195.5" y="370.5" width="15.2" height="6.3" rx="0" fill="#000" stroke="#000" stroke-width="0"/>
<rect x="197.5" y="371.8" width="11.5" height="3.8" rx="0" fill="#fff" stroke="#000" stroke-width="0"/>
<text x="197.7" y="375.2" font-size="4.6" font-weight="bold" textLength="11.0" lengthAdjust="spacingAndGlyphs">ВКЛ</text>
<rect x="173.2" y="384.7" width="40.5" height="16.3" rx="0" fill="none" stroke="#000" stroke-width="1.6"/>
<text x="175.0" y="392.0" font-size="6.5" font-weight="bold" textLength="36.0" lengthAdjust="spacingAndGlyphs">ЗАПУСК МОТ.</text>
<text x="176.0" y="399.0" font-size="6.5" font-weight="bold" textLength="34.0" lengthAdjust="spacingAndGlyphs">1 КАБИНА</text>
<line x1="184.3" y1="401.0" x2="184.3" y2="437.0" stroke="#000" stroke-width="1.6"/>
<line x1="202.6" y1="401.0" x2="202.6" y2="437.0" stroke="#000" stroke-width="1.6"/>
<line x1="186.0" y1="401.0" x2="186.0" y2="437.0" stroke="#000" stroke-width="0.8"/>
<line x1="201.0" y1="401.0" x2="201.0" y2="437.0" stroke="#000" stroke-width="0.8"/>
<circle cx="192.4" cy="406.6" r="3.2" fill="#000"/>
<circle cx="192.0" cy="419.2" r="3.8" fill="none" stroke="#000" stroke-width="1.8"/>
<rect x="189.8" y="421.0" width="4.4" height="9.3" rx="0" fill="#fff" stroke="#000" stroke-width="1.6"/>
<line x1="192.0" y1="423.0" x2="192.0" y2="430.0" stroke="#000" stroke-width="1.2"/>
<rect x="174.2" y="437.0" width="35.5" height="7.5" rx="0" fill="none" stroke="#000" stroke-width="1.4"/>
<text x="177.0" y="443.3" font-size="6" font-weight="bold" textLength="30.0" lengthAdjust="spacingAndGlyphs">ЗАКРЫТ</text>
<line x1="179.0" y1="449.0" x2="182.0" y2="449.5" stroke="#000" stroke-width="1"/>
<ellipse cx="94.0" cy="504.1" rx="25.8" ry="24.8" fill="none" stroke="#000" stroke-width="1.8"/>
<circle cx="94.5" cy="502.6" r="8.6" fill="none" stroke="#000" stroke-width="2"/>
<line x1="68.2" y1="528.9" x2="102" y2="496" stroke="#000" stroke-width="6.5" stroke-linecap="round"/>
<line x1="70" y1="527.2" x2="101" y2="497" stroke="#fff" stroke-width="2.8" stroke-linecap="round"/>
<path d="M99,495 L106,488 L103.5,499 Z" fill="#000" stroke="#000" stroke-width="0.5" />
<circle cx="67.6" cy="477.2" r="4.4" fill="#000"/>
<circle cx="120.2" cy="476.2" r="4.4" fill="#000"/>
<circle cx="120.8" cy="528.9" r="4.4" fill="#000"/>
<circle cx="68.2" cy="528.9" r="4.4" fill="#000"/>
<text x="90.0" y="473.6" font-size="9.7" font-weight="bold" textLength="5.0" lengthAdjust="spacingAndGlyphs" >2</text>
<text x="77.5" y="492.0" font-size="5.5" font-weight="bold" textLength="7.5" lengthAdjust="spacingAndGlyphs">ПВ</text>
<text x="95.5" y="488.0" font-size="5.5" font-weight="bold" textLength="11.0" lengthAdjust="spacingAndGlyphs">РТС</text>
<circle cx="94.5" cy="543.1" r="6.3" fill="none" stroke="#000" stroke-width="5.6"/>
<circle cx="94.5" cy="543.1" r="7.6" fill="none" stroke="#fff" stroke-width="0.6"/>
<rect x="80.3" y="555.3" width="27.8" height="15.2" rx="0" fill="none" stroke="#000" stroke-width="1.6"/>
<text x="82.5" y="562.0" font-size="6" font-weight="bold" textLength="20.0" lengthAdjust="spacingAndGlyphs">КСм ↑</text>
<text x="83.0" y="568.5" font-size="5.5" font-weight="bold" textLength="14.0" lengthAdjust="spacingAndGlyphs">ДЕМ</text>
<text x="90.3" y="579.6" font-size="8.3" font-weight="bold" textLength="3.5" lengthAdjust="spacingAndGlyphs" >1</text>
<rect x="144.8" y="465.6" width="24.5" height="7.2" rx="0" fill="none" stroke="#000" stroke-width="1.4"/>
<rect x="145.5" y="466.3" width="23.0" height="5.8" rx="0" fill="#111" stroke="#000" stroke-width="0"/>
<text x="147" y="471.3" font-size="5.5" font-weight="bold" fill="#fff" style="fill:#fff" textLength="19" lengthAdjust="spacingAndGlyphs">ЗАМКИ</text>
<text x="154.1" y="461.8" font-size="9.7" font-weight="bold" textLength="5.0" lengthAdjust="spacingAndGlyphs" >3</text>
<rect x="143.3" y="477.6" width="27.6" height="5" rx="2.5" fill="#fff" stroke="#000" stroke-width="1.6"/>
<rect x="143.3" y="477.6" width="3.5" height="5.0" rx="0" fill="#000" stroke="#000" stroke-width="0"/>
<rect x="167.4" y="477.6" width="3.5" height="5.0" rx="0" fill="#000" stroke="#000" stroke-width="0"/>
<rect x="152.5" y="478.3" width="8.3" height="4.6" rx="0" fill="#fff" stroke="#000" stroke-width="1.3"/>
<line x1="145.6" y1="482.0" x2="145.6" y2="499.0" stroke="#000" stroke-width="2.6"/>
<line x1="168.2" y1="482.0" x2="168.2" y2="499.0" stroke="#000" stroke-width="2.0"/>
<path d="M146.2,503.5 L153,517.5 Q155.7,522 158.6,517.5 L167.6,501.5" fill="none" stroke="#000" stroke-width="1.8" />
<line x1="100.5" y1="24.5" x2="106.0" y2="22.5" stroke="#000" stroke-width="1.8"/>
<line x1="46.0" y1="336.5" x2="44.0" y2="345.0" stroke="#000" stroke-width="1.4"/>
<ellipse cx="838.5" cy="72" rx="2" ry="3" fill="#000"/>
<line x1="500.0" y1="471.5" x2="510.0" y2="472.5" stroke="#000" stroke-width="1.3"/>
<line x1="589.5" y1="421.5" x2="590.5" y2="425.0" stroke="#000" stroke-width="1.3"/>
</svg>
</body></html>
